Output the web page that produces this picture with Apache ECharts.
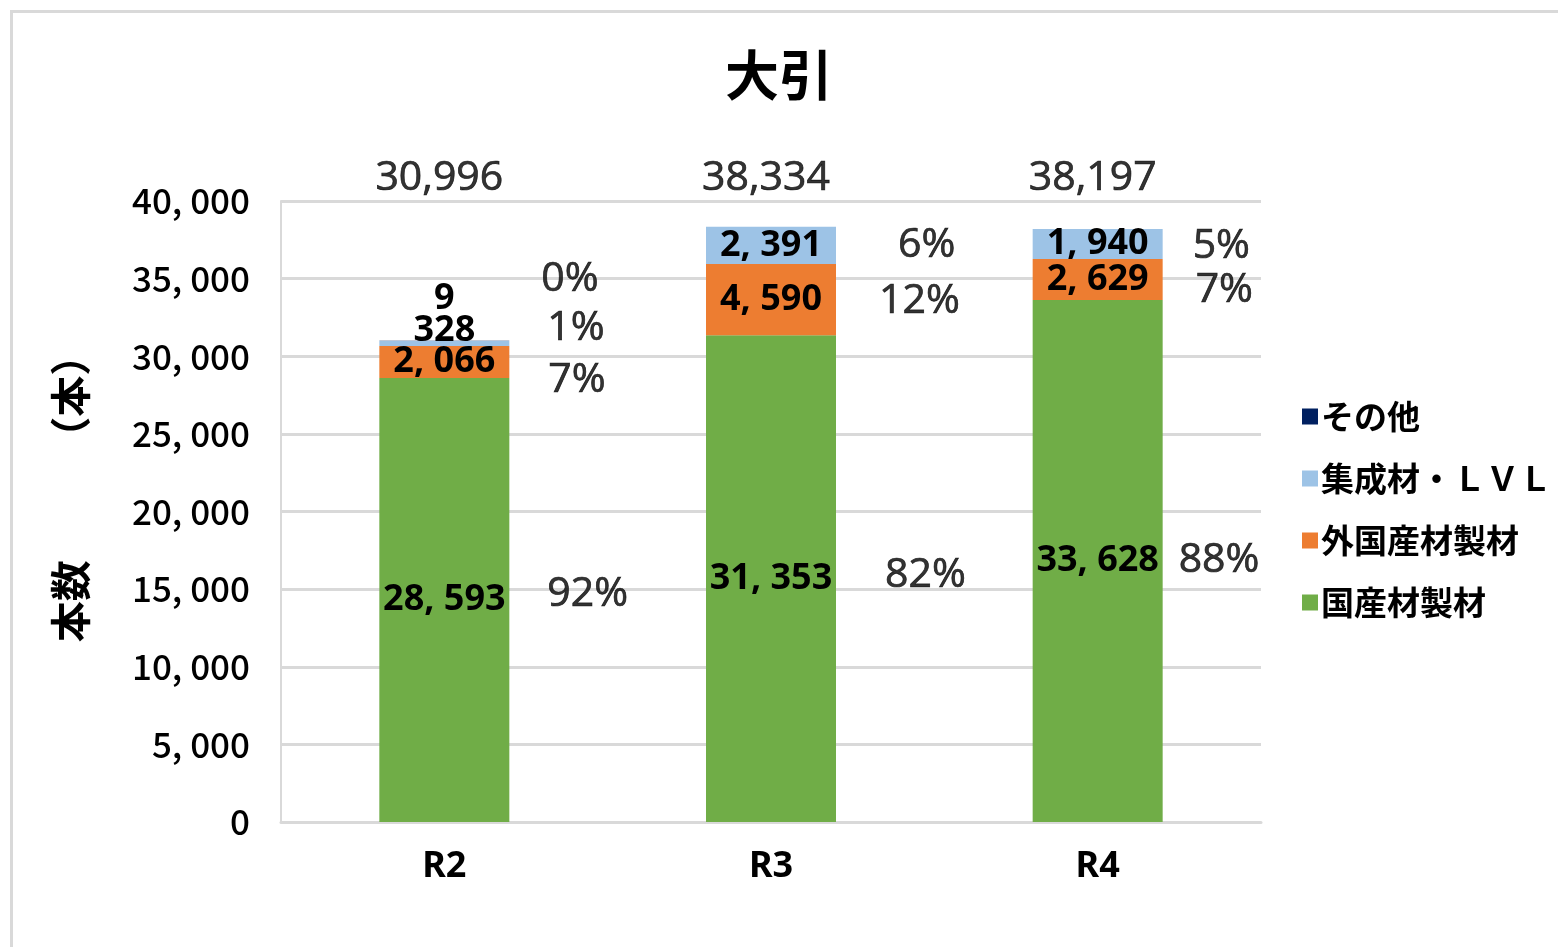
<!DOCTYPE html>
<html>
<head>
<meta charset="utf-8">
<script src="https://cdn.jsdelivr.net/npm/echarts@6/dist/echarts.min.js"></script>
<style>
html,body{margin:0;padding:0;background:#fff;overflow:hidden;}
#frame{position:absolute;left:10px;top:10px;width:1700px;height:1100px;border-left:3px solid #D9D9D9;border-top:3px solid #D9D9D9;box-sizing:border-box;}
#chart{position:absolute;left:0;top:0;width:1558px;height:947px;}
</style>
</head>
<body>
<div id="frame"></div>
<div id="chart"></div>
<script>
// ---- data ----
const categories = ['R2', 'R3', 'R4'];
const seriesNames = ['国産材製材', '外国産材製材', '集成材・ＬＶＬ', 'その他'];
const domestic  = [28593, 31353, 33628];
const foreign   = [2066, 4590, 2629];
const laminated = [328, 2391, 1940];
const other     = [9, 0, 0];
const totals    = [30996, 38334, 38197];
const yMin = 0, yMax = 40000, yStep = 5000;
const legendOrder = ['その他', '集成材・ＬＶＬ', '外国産材製材', '国産材製材'];

// ---- style / layout tweaks (not data) ----
const colors = ['#70AD47', '#ED7D31', '#9DC3E6', '#002060'];
const valueLabelDy = [[0, 0, 0], [0, 0, 0], [-13, 0, 0], [-42, 0, 0]];
const pctShift = [
  [[103, -6], [114, -3], [81, -1]],
  [[104, 18], [108, 2], [98, 11]],
  [[103, -15], [127, 0], [95, 2]],
  [[97, -62], [0, 0], [0, 0]]
];

const seriesValues = [domestic, foreign, laminated, other];
const narrow = "'Noto Sans','Noto Sans CJK JP',sans-serif";
const jp = "'Noto Sans CJK JP',sans-serif";
const latin = "'Open Sans','Liberation Sans',sans-serif";

function fmtSpace(v) { return v.toLocaleString('en-US').replace(/,/g, ', '); }

const series = [];
seriesValues.forEach((vals, s) => {
  series.push({
    name: seriesNames[s],
    type: 'bar',
    stack: 'total',
    barWidth: 130,
    itemStyle: { color: colors[s] },
    label: {
      show: true,
      position: 'inside',
      color: '#000',
      fontFamily: narrow,
      fontWeight: 'bold',
      fontSize: 36,
      formatter: p => (p.value ? fmtSpace(p.value) : '')
    },
    data: vals.map((v, i) => ({ value: v, label: { offset: [0, valueLabelDy[s][i]] } }))
  });
});

// percentage labels at segment middles
const pctData = [];
seriesValues.forEach((vals, s) => {
  vals.forEach((v, i) => {
    if (!v) return;
    let base = 0;
    for (let k = 0; k < s; k++) base += seriesValues[k][i];
    pctData.push({
      value: [i, base + v / 2],
      pct: Math.round(v / totals[i] * 100) + '%',
      label: { offset: [pctShift[s][i][0], pctShift[s][i][1]] }
    });
  });
});
const plainText = {
  color: '#000',
  fontFamily: latin,
  fontSize: 41,
  textBorderColor: '#000',
  textBorderWidth: 0.7
};
series.push({
  type: 'scatter',
  symbolSize: 0,
  silent: true,
  z: 5,
  label: Object.assign({
    show: true,
    position: 'inside',
    align: 'left',
    verticalAlign: 'middle',
    formatter: p => p.data.pct
  }, plainText),
  data: pctData
});
// totals above the plot
series.push({
  type: 'scatter',
  symbolSize: 0,
  silent: true,
  clip: false,
  z: 5,
  label: Object.assign({
    show: true,
    position: 'inside',
    align: 'center',
    verticalAlign: 'middle',
    offset: [-5, -23],
    formatter: p => totals[p.dataIndex].toLocaleString('en-US')
  }, plainText),
  data: totals.map((t, i) => [i, yMax])
});

const chart = echarts.init(document.getElementById('chart'));
chart.setOption({
  animation: false,
  backgroundColor: 'transparent',
  title: {
    text: '大引',
    left: 'center',
    top: 43,
    textStyle: { fontFamily: jp, fontSize: 54, fontWeight: 'bold', color: '#000' }
  },
  legend: {
    orient: 'vertical',
    left: 1297,
    top: 391,
    itemWidth: 16,
    itemHeight: 16,
    itemGap: 21,
    icon: 'rect',
    data: legendOrder,
    textStyle: { fontFamily: jp, fontSize: 33, fontWeight: 'bold', color: '#000', lineHeight: 41, padding: [0, 0, 0, -2] }
  },
  grid: { left: 281, right: 297, top: 201, bottom: 125, containLabel: false },
  xAxis: {
    type: 'category',
    data: categories,
    axisTick: { show: false },
    axisLine: { lineStyle: { color: '#D9D9D9', width: 3 } },
    axisLabel: { fontFamily: narrow, fontWeight: 'bold', fontSize: 36, color: '#000', margin: 27 }
  },
  yAxis: {
    type: 'value',
    min: yMin,
    max: yMax,
    interval: yStep,
    name: '本数　　　（本）',
    nameLocation: 'middle',
    nameGap: 190,
    nameRotate: 90,
    nameTextStyle: { fontFamily: jp, fontSize: 41, fontWeight: 'bold', color: '#000', padding: [0, 0, 0, 46] },
    axisLine: { show: true, lineStyle: { color: '#D9D9D9', width: 2 } },
    axisTick: { show: false },
    splitLine: { lineStyle: { color: '#D9D9D9', width: 3 } },
    axisLabel: { fontFamily: jp, fontSize: 35, fontWeight: 500, color: '#000', margin: 31, formatter: v => fmtSpace(v) }
  },
  series: series
});
</script>
</body>
</html>
